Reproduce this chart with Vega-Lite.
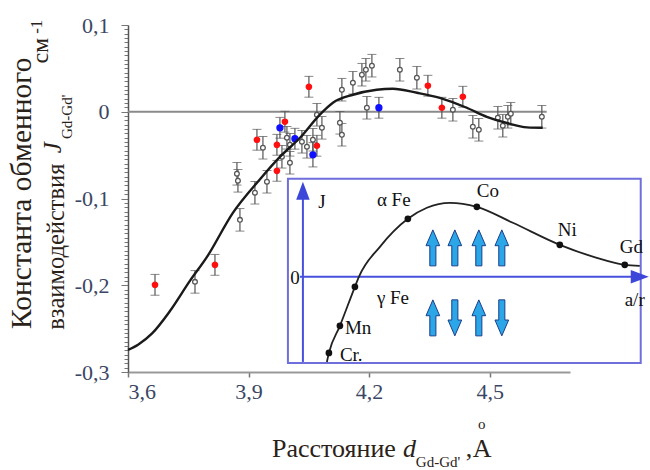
{
  "$schema": "https://vega.github.io/schema/vega-lite/v6.json",
  "width": 442,
  "height": 347,
  "autosize": "none",
  "padding": {"left": 128, "top": 25, "right": 80, "bottom": 98},
  "background": "white",
  "config": {"view": {"stroke": null}, "font": "Liberation Serif"},
  "datasets": {
    "pts": [
      {"k": "r", "x": 3.6672, "y": -0.1995, "e": 0.012},
      {"k": "r", "x": 3.8164, "y": -0.1765, "e": 0.012},
      {"k": "r", "x": 3.9209, "y": -0.0323, "e": 0.012},
      {"k": "r", "x": 3.9706, "y": -0.0381, "e": 0.012},
      {"k": "r", "x": 3.9905, "y": -0.0115, "e": 0.012},
      {"k": "r", "x": 3.9706, "y": -0.0681, "e": 0.012},
      {"k": "r", "x": 4.0502, "y": 0.0288, "e": 0.012},
      {"k": "r", "x": 4.0701, "y": -0.0392, "e": 0.012},
      {"k": "r", "x": 4.3463, "y": 0.0300, "e": 0.012},
      {"k": "r", "x": 4.3811, "y": 0.0046, "e": 0.012},
      {"k": "r", "x": 4.4333, "y": 0.0173, "e": 0.012},
      {"k": "b", "x": 3.9781, "y": -0.0185, "e": 0.012},
      {"k": "b", "x": 4.0154, "y": -0.0311, "e": 0.012},
      {"k": "b", "x": 4.0602, "y": -0.0496, "e": 0.014},
      {"k": "b", "x": 4.2244, "y": 0.0046, "e": 0.012},
      {"k": "o", "x": 3.7667, "y": -0.1961, "e": 0.013},
      {"k": "o", "x": 3.8711, "y": -0.0715, "e": 0.013},
      {"k": "o", "x": 3.8736, "y": -0.0796, "e": 0.013},
      {"k": "o", "x": 3.8786, "y": -0.1246, "e": 0.013},
      {"k": "o", "x": 3.9159, "y": -0.0934, "e": 0.013},
      {"k": "o", "x": 3.9458, "y": -0.0807, "e": 0.013},
      {"k": "o", "x": 3.9358, "y": -0.0415, "e": 0.013},
      {"k": "o", "x": 3.9831, "y": -0.0519, "e": 0.013},
      {"k": "o", "x": 4.0030, "y": -0.0588, "e": 0.013},
      {"k": "o", "x": 3.9955, "y": -0.0300, "e": 0.013},
      {"k": "o", "x": 4.0030, "y": -0.0381, "e": 0.013},
      {"k": "o", "x": 4.0328, "y": -0.0346, "e": 0.013},
      {"k": "o", "x": 4.0453, "y": -0.0404, "e": 0.013},
      {"k": "o", "x": 4.0602, "y": -0.0323, "e": 0.013},
      {"k": "o", "x": 4.0826, "y": -0.0185, "e": 0.013},
      {"k": "o", "x": 4.0701, "y": -0.0035, "e": 0.013},
      {"k": "o", "x": 4.1323, "y": 0.0254, "e": 0.013},
      {"k": "o", "x": 4.1274, "y": -0.0127, "e": 0.013},
      {"k": "o", "x": 4.1323, "y": -0.0265, "e": 0.013},
      {"k": "o", "x": 4.1597, "y": 0.0334, "e": 0.013},
      {"k": "o", "x": 4.1821, "y": 0.0427, "e": 0.013},
      {"k": "o", "x": 4.1920, "y": 0.0484, "e": 0.013},
      {"k": "o", "x": 4.2070, "y": 0.0531, "e": 0.013},
      {"k": "o", "x": 4.1945, "y": 0.0046, "e": 0.013},
      {"k": "o", "x": 4.2766, "y": 0.0484, "e": 0.013},
      {"k": "o", "x": 4.3189, "y": 0.0392, "e": 0.013},
      {"k": "o", "x": 4.4085, "y": 0.0023, "e": 0.013},
      {"k": "o", "x": 4.4582, "y": -0.0173, "e": 0.013},
      {"k": "o", "x": 4.4731, "y": -0.0208, "e": 0.013},
      {"k": "o", "x": 4.5204, "y": -0.0069, "e": 0.013},
      {"k": "o", "x": 4.5328, "y": -0.0161, "e": 0.013},
      {"k": "o", "x": 4.5453, "y": -0.0058, "e": 0.013},
      {"k": "o", "x": 4.5527, "y": -0.0023, "e": 0.013},
      {"k": "o", "x": 4.6299, "y": -0.0058, "e": 0.013}
    ],
    "fit": [
      {"x": 3.600, "y": -0.2745}, {"x": 3.625, "y": -0.2685}, {"x": 3.660, "y": -0.2555},
      {"x": 3.704, "y": -0.2300}, {"x": 3.754, "y": -0.1950}, {"x": 3.797, "y": -0.1670},
      {"x": 3.861, "y": -0.1165}, {"x": 3.928, "y": -0.0780}, {"x": 3.978, "y": -0.0520},
      {"x": 4.028, "y": -0.0300}, {"x": 4.077, "y": -0.0035}, {"x": 4.110, "y": 0.0104},
      {"x": 4.160, "y": 0.0196}, {"x": 4.219, "y": 0.0254}, {"x": 4.259, "y": 0.0265},
      {"x": 4.319, "y": 0.0219}, {"x": 4.376, "y": 0.0161}, {"x": 4.443, "y": 0.0046},
      {"x": 4.493, "y": -0.0058}, {"x": 4.543, "y": -0.0130}, {"x": 4.593, "y": -0.0180},
      {"x": 4.632, "y": -0.0185}
    ],
    "bs": [
      {"x": 4.095, "y": -0.2884}, {"x": 4.100, "y": -0.278}, {"x": 4.1274, "y": -0.2468},
      {"x": 4.1647, "y": -0.2018}, {"x": 4.1746, "y": -0.1903}, {"x": 4.2269, "y": -0.1557},
      {"x": 4.2965, "y": -0.1234}, {"x": 4.3438, "y": -0.1107}, {"x": 4.401, "y": -0.105},
      {"x": 4.4682, "y": -0.1096}, {"x": 4.5577, "y": -0.128}, {"x": 4.6746, "y": -0.1534},
      {"x": 4.7667, "y": -0.1684}, {"x": 4.8363, "y": -0.1765}, {"x": 4.8736, "y": -0.1776}
    ],
    "metals": [
      {"t": "Cr.", "x": 4.100, "y": -0.278, "lx": 4.1274, "ly": -0.2803},
      {"t": "Mn", "x": 4.1274, "y": -0.2468, "lx": 4.1398, "ly": -0.2491},
      {"t": "γ Fe", "x": 4.1647, "y": -0.2018, "lx": 4.2194, "ly": -0.2145},
      {"t": "α Fe", "x": 4.2965, "y": -0.1234, "lx": 4.2194, "ly": -0.1015},
      {"t": "Co", "x": 4.4682, "y": -0.1096, "lx": 4.4682, "ly": -0.0911},
      {"t": "Ni", "x": 4.6746, "y": -0.1534, "lx": 4.6697, "ly": -0.1361},
      {"t": "Gd", "x": 4.8363, "y": -0.1765, "lx": 4.8239, "ly": -0.1557}
    ],
    "spins": [
      {"x": 4.3587, "y": -0.1569, "d": "up"}, {"x": 4.4134, "y": -0.1569, "d": "up"},
      {"x": 4.4731, "y": -0.1569, "d": "up"}, {"x": 4.5303, "y": -0.1569, "d": "up"},
      {"x": 4.3587, "y": -0.2376, "d": "up"}, {"x": 4.4134, "y": -0.2376, "d": "down"},
      {"x": 4.4731, "y": -0.2376, "d": "up"}, {"x": 4.5303, "y": -0.2376, "d": "down"}
    ]
  },
  "layer": [
    {
      "data": {"values": [{}]},
      "mark": {"type": "rule", "color": "#8a8a8a", "strokeWidth": 2},
      "encoding": {
        "x": {"datum": 3.6, "type": "quantitative",
          "scale": {"domain": [3.6, 4.7], "nice": false, "zero": false},
          "axis": {
            "values": [3.6, 3.9, 4.2, 4.5],
            "labelExpr": "replace(format(datum.value, '.1f'), '.', ',')",
            "labelFont": "Liberation Serif", "labelFontSize": 22, "labelColor": "#3a4663",
            "labelPadding": 4, "tickSize": 5, "tickColor": "#777", "tickWidth": 1.5,
            "domainColor": "#999", "domainWidth": 2, "grid": false, "title": null
          }},
        "x2": {"datum": 4.642},
        "y": {"datum": 0, "type": "quantitative",
          "scale": {"domain": [-0.3, 0.1], "nice": false, "zero": false},
          "axis": {
            "tickCount": 80,
            "labelExpr": "abs(datum.value*10 - round(datum.value*10)) < 0.001 ? (abs(datum.value) < 0.001 ? '0' : replace(replace(format(datum.value, '.1f'), '.', ','), '\u2212', '-')) : ''",
            "labelOverlap": false,
            "labelFont": "Liberation Serif", "labelFontSize": 22, "labelColor": "#3a4663",
            "labelPadding": 12,
            "tickSize": {"condition": {"test": "abs(datum.value*10 - round(datum.value*10)) < 0.001", "value": 7}, "value": 4},
            "tickColor": "#777", "domainColor": "#555", "domainWidth": 1.5,
            "grid": false, "title": null
          }}
      }
    },
    {
      "data": {"name": "pts"},
      "mark": {"type": "errorbar", "ticks": {"size": 9, "color": "#555", "strokeWidth": 1.3}, "rule": {"color": "#555", "strokeWidth": 1.2}},
      "encoding": {
        "x": {"field": "x", "type": "quantitative"},
        "y": {"field": "y", "type": "quantitative"},
        "yError": {"field": "e"}
      }
    },
    {
      "data": {"name": "pts"},
      "mark": {"type": "point", "filled": true, "opacity": 1, "strokeWidth": 1.3},
      "encoding": {
        "x": {"field": "x", "type": "quantitative"},
        "y": {"field": "y", "type": "quantitative"},
        "fill": {"field": "k", "type": "nominal", "scale": {"domain": ["o", "r", "b"], "range": ["white", "#ff1010", "#1010ff"]}, "legend": null},
        "stroke": {"field": "k", "type": "nominal", "scale": {"domain": ["o", "r", "b"], "range": ["#555555", "#ff1010", "#1010ff"]}, "legend": null},
        "size": {"field": "k", "type": "nominal", "scale": {"domain": ["o", "r", "b"], "range": [22, 36, 36]}, "legend": null}
      }
    },
    {
      "data": {"name": "fit"},
      "mark": {"type": "line", "color": "#1a1a1a", "strokeWidth": 2.4, "interpolate": "monotone"},
      "encoding": {
        "x": {"field": "x", "type": "quantitative"},
        "y": {"field": "y", "type": "quantitative"}
      }
    },
    {
      "data": {"values": [{}]},
      "mark": {"type": "rect", "fill": "white", "stroke": "#6e6edc", "strokeWidth": 2},
      "encoding": {
        "x": {"datum": 3.998}, "x2": {"datum": 4.876},
        "y": {"datum": -0.0773}, "y2": {"datum": -0.2895}
      }
    },
    {
      "data": {"values": [{}]},
      "mark": {"type": "rule", "color": "#4650dc", "strokeWidth": 2},
      "encoding": {
        "x": {"datum": 4.0353},
        "y": {"datum": -0.2884}, "y2": {"datum": -0.0958}
      }
    },
    {
      "data": {"values": [{}]},
      "mark": {"type": "rule", "color": "#4650dc", "strokeWidth": 2},
      "encoding": {
        "x": {"datum": 4.028}, "x2": {"datum": 4.864},
        "y": {"datum": -0.1903}
      }
    },
    {
      "data": {"values": [{}]},
      "mark": {"type": "point", "filled": true, "opacity": 1, "color": "#3c46d8", "size": 324, "shape": "M0,-1L0.75,1L-0.75,1Z"},
      "encoding": {"x": {"datum": 4.0353}, "y": {"datum": -0.0911}}
    },
    {
      "data": {"values": [{}]},
      "mark": {"type": "point", "filled": true, "opacity": 1, "color": "#3c46d8", "size": 324, "shape": "M1,0L-1,0.75L-1,-0.75Z"},
      "encoding": {"x": {"datum": 4.8736}, "y": {"datum": -0.1903}}
    },
    {
      "data": {"name": "bs"},
      "mark": {"type": "line", "color": "#222", "strokeWidth": 1.8, "interpolate": "monotone"},
      "encoding": {
        "x": {"field": "x", "type": "quantitative"},
        "y": {"field": "y", "type": "quantitative"}
      }
    },
    {
      "data": {"name": "metals"},
      "mark": {"type": "point", "filled": true, "opacity": 1, "color": "#111", "size": 45},
      "encoding": {
        "x": {"field": "x", "type": "quantitative"},
        "y": {"field": "y", "type": "quantitative"}
      }
    },
    {
      "data": {"name": "metals"},
      "mark": {"type": "text", "align": "left", "baseline": "middle", "font": "Liberation Serif", "fontSize": 19, "color": "#111"},
      "encoding": {
        "x": {"field": "lx", "type": "quantitative"},
        "y": {"field": "ly", "type": "quantitative"},
        "text": {"field": "t"}
      }
    },
    {
      "data": {"values": [{"t": "J", "x": 4.0826, "y": -0.1038}, {"t": "0", "x": 4.0154, "y": -0.1915}, {"t": "a/r", "x": 4.861, "y": -0.2168}]},
      "mark": {"type": "text", "align": "center", "baseline": "middle", "font": "Liberation Serif", "fontSize": 19, "color": "#111"},
      "encoding": {
        "x": {"field": "x", "type": "quantitative"},
        "y": {"field": "y", "type": "quantitative"},
        "text": {"field": "t"}
      }
    },
    {
      "data": {"name": "spins"},
      "mark": {"type": "point", "filled": true, "opacity": 1, "size": 1296, "fill": "#2ba6e6", "stroke": "#1c3f8c", "strokeWidth": 1},
      "encoding": {
        "x": {"field": "x", "type": "quantitative"},
        "y": {"field": "y", "type": "quantitative"},
        "shape": {"field": "d", "type": "nominal", "legend": null,
          "scale": {"domain": ["up", "down"], "range": [
            "M-0.17,1L0.17,1L0.17,-0.12L0.38,-0.12L0,-1L-0.38,-0.12L-0.17,-0.12Z",
            "M-0.17,-1L0.17,-1L0.17,0.12L0.38,0.12L0,1L-0.38,0.12L-0.17,0.12Z"
          ]}}
      }
    },
    {
      "data": {"values": [{"t": "Константа обменного", "x": 3.3363, "y": -0.2503}]},
      "mark": {"type": "text", "angle": 270, "align": "left", "baseline": "middle", "font": "Liberation Serif", "fontSize": 29.5, "color": "#2a2218"},
      "encoding": {"x": {"field": "x", "type": "quantitative"}, "y": {"field": "y", "type": "quantitative"}, "text": {"field": "t"}}
    },
    {
      "data": {"values": [{"t": "взаимодействия", "x": 3.4234, "y": -0.2514}]},
      "mark": {"type": "text", "angle": 270, "align": "left", "baseline": "middle", "font": "Liberation Serif", "fontSize": 24.5, "color": "#2a2218"},
      "encoding": {"x": {"field": "x", "type": "quantitative"}, "y": {"field": "y", "type": "quantitative"}, "text": {"field": "t"}}
    },
    {
      "data": {"values": [{"t": "J", "x": 3.4134, "y": -0.0415}]},
      "mark": {"type": "text", "angle": 270, "align": "center", "baseline": "middle", "font": "Liberation Serif", "fontStyle": "italic", "fontSize": 25, "color": "#2a2218"},
      "encoding": {"x": {"field": "x", "type": "quantitative"}, "y": {"field": "y", "type": "quantitative"}, "text": {"field": "t"}}
    },
    {
      "data": {"values": [{"t": "Gd-Gd'", "x": 3.4483, "y": -0.0058}]},
      "mark": {"type": "text", "angle": 270, "align": "center", "baseline": "middle", "font": "Liberation Serif", "fontSize": 15, "color": "#2a2218"},
      "encoding": {"x": {"field": "x", "type": "quantitative"}, "y": {"field": "y", "type": "quantitative"}, "text": {"field": "t"}}
    },
    {
      "data": {"values": [{"t": "см", "x": 3.3836, "y": 0.0704}]},
      "mark": {"type": "text", "angle": 270, "align": "center", "baseline": "middle", "font": "Liberation Serif", "fontSize": 24, "color": "#2a2218"},
      "encoding": {"x": {"field": "x", "type": "quantitative"}, "y": {"field": "y", "type": "quantitative"}, "text": {"field": "t"}}
    },
    {
      "data": {"values": [{"t": "-1", "x": 3.3736, "y": 0.098}]},
      "mark": {"type": "text", "angle": 270, "align": "center", "baseline": "middle", "font": "Liberation Serif", "fontSize": 17, "color": "#2a2218"},
      "encoding": {"x": {"field": "x", "type": "quantitative"}, "y": {"field": "y", "type": "quantitative"}, "text": {"field": "t"}}
    },
    {
      "data": {"values": [{"t": "Расстояние", "x": 3.9582, "y": -0.3979}, {"t": ",", "x": 4.4408, "y": -0.3979}, {"t": "A", "x": 4.4582, "y": -0.3979}]},
      "mark": {"type": "text", "align": "left", "baseline": "alphabetic", "font": "Liberation Serif", "fontSize": 26, "color": "#2a2218"},
      "encoding": {"x": {"field": "x", "type": "quantitative"}, "y": {"field": "y", "type": "quantitative"}, "text": {"field": "t"}}
    },
    {
      "data": {"values": [{"t": "d", "x": 4.2841, "y": -0.3979}]},
      "mark": {"type": "text", "align": "left", "baseline": "alphabetic", "font": "Liberation Serif", "fontStyle": "italic", "fontSize": 26, "color": "#2a2218"},
      "encoding": {"x": {"field": "x", "type": "quantitative"}, "y": {"field": "y", "type": "quantitative"}, "text": {"field": "t"}}
    },
    {
      "data": {"values": [{"t": "Gd-Gd'", "x": 4.3164, "y": -0.4095}]},
      "mark": {"type": "text", "align": "left", "baseline": "alphabetic", "font": "Liberation Serif", "fontSize": 15, "color": "#2a2218"},
      "encoding": {"x": {"field": "x", "type": "quantitative"}, "y": {"field": "y", "type": "quantitative"}, "text": {"field": "t"}}
    },
    {
      "data": {"values": [{"t": "o", "x": 4.4806, "y": -0.3600}]},
      "mark": {"type": "text", "align": "center", "baseline": "middle", "font": "Liberation Serif", "fontSize": 15, "color": "#2a2218"},
      "encoding": {"x": {"field": "x", "type": "quantitative"}, "y": {"field": "y", "type": "quantitative"}, "text": {"field": "t"}}
    }
  ]
}
